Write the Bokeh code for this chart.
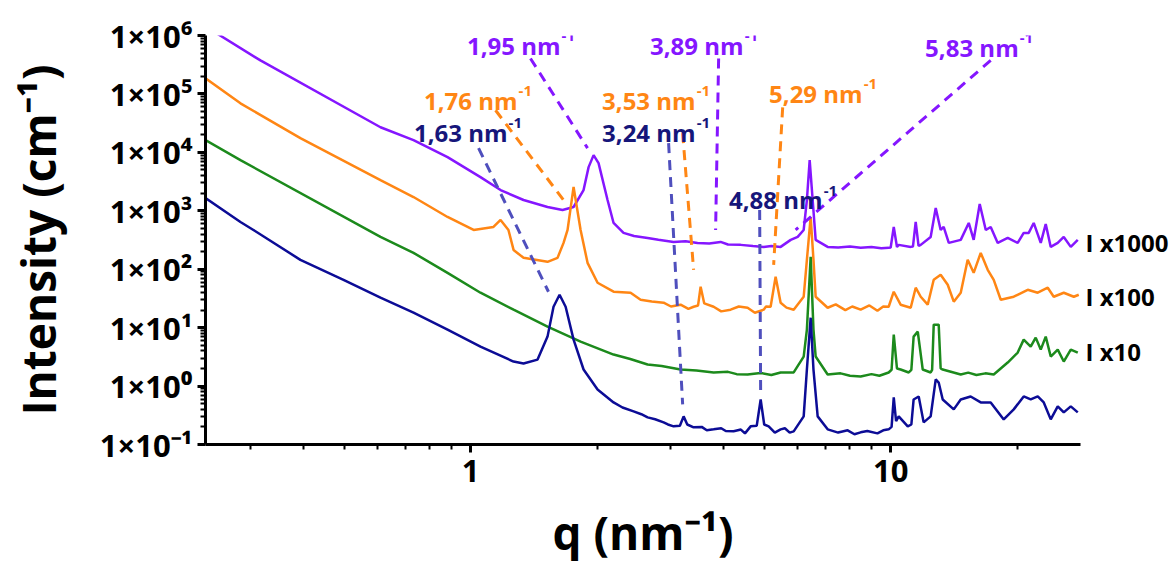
from bokeh.plotting import figure
from bokeh.models import Label, FixedTicker, Range1d, CustomJSTickFormatter, LogAxis
from bokeh.embed import file_html
from bokeh.resources import INLINE

FONT = "Open Sans"

# ---------------- data: (q in nm^-1, I in cm^-1, curves already multiplied) ----------------
blue_pts = [(0.234, 1654), (0.2834, 644), (0.3043, 470), (0.3936, 144.7), (0.4985, 65.9),
            (0.6105, 32.5), (0.7316, 18.0), (0.8816, 9.25), (1.056, 4.74), (1.266, 2.63),
            (1.337, 2.43), (1.444, 2.84), (1.525, 7.02), (1.576, 22.8), (1.629, 36.6),
            (1.684, 22.8), (1.759, 6.24), (1.858, 1.92), (2.006, 0.875), (2.19, 0.525),
            (2.3, 0.43), (2.444, 0.369), (2.55, 0.33), (2.639, 0.291), (2.75, 0.27),
            (2.881, 0.239), (2.95, 0.22), (3.043, 0.2045), (3.15, 0.21), (3.215, 0.303),
            (3.28, 0.22), (3.396, 0.1966), (3.55, 0.2), (3.65, 0.175), (3.79, 0.1817),
            (3.95, 0.19), (4.05, 0.17), (4.229, 0.168), (4.4, 0.18), (4.5, 0.155),
            (4.642, 0.2045), (4.8, 0.21), (4.904, 0.59), (5.0, 0.22), (5.124, 0.2045),
            (5.3, 0.16), (5.471, 0.1817), (5.6, 0.19), (5.75, 0.16), (5.877, 0.168),
            (6.208, 0.303), (6.318, 1.92), (6.45, 14.8), (6.55, 1.92), (6.702, 0.303),
            (7.079, 0.1817), (7.5, 0.16), (7.9, 0.175), (8.2, 0.15), (8.483, 0.1616),
            (8.8, 0.17), (9.3, 0.155), (9.6, 0.175), (9.891, 0.1817), (10.05, 0.2),
            (10.17, 0.639), (10.3, 0.25), (10.45, 0.303), (10.98, 0.2045), (11.2, 0.22),
            (11.34, 0.59), (11.66, 0.664), (11.98, 0.239), (12.45, 0.303), (12.8, 1.30),
            (13.01, 1.15), (13.3, 0.59), (14.13, 0.399), (14.68, 0.59), (15.5, 0.664),
            (16.38, 0.525), (17.3, 0.525), (18.58, 0.269), (19.63, 0.399), (20.73, 0.664),
            (21.54, 0.59), (22.39, 0.664), (23.14, 0.525), (24.04, 0.269), (24.98, 0.449),
            (25.82, 0.354), (26.83, 0.449), (27.88, 0.354)]

green_pts = [(0.234, 16150), (0.2834, 7360), (0.6105, 357), (0.7316, 190.5), (0.8816, 86.8),
             (1.056, 39.6), (1.266, 20.3), (1.525, 10.4), (1.828, 5.77), (2.19, 3.46),
             (2.4, 2.9), (2.639, 2.34), (2.85, 2.2), (3.162, 1.92), (3.45, 1.85),
             (3.79, 1.71), (4.1, 1.75), (4.3, 1.6), (4.565, 1.58), (4.9, 1.68),
             (5.2, 1.55), (5.471, 1.71), (5.877, 1.71), (6.208, 3.2), (6.318, 9.25),
             (6.45, 162.8), (6.55, 9.25), (6.629, 3.2), (7.079, 1.58), (7.6, 1.65),
             (8.0, 1.5), (8.483, 1.46), (9.0, 1.6), (9.4, 1.5), (9.891, 1.71),
             (10.05, 1.9), (10.17, 7.6), (10.35, 2.0), (10.56, 1.92), (11.04, 1.71),
             (11.2, 1.9), (11.34, 7.02), (11.6, 8.55), (11.92, 1.92), (12.45, 1.71),
             (12.55, 1.9), (12.66, 11.25), (13.01, 11.25), (13.15, 2.0), (13.3, 1.92),
             (14.68, 1.58), (15.3, 1.7), (16.0, 1.55), (16.8, 1.65), (17.59, 1.58),
             (18.99, 2.53), (20.06, 3.745), (20.73, 6.24), (21.54, 4.74), (22.14, 6.75),
             (22.76, 4.21), (23.39, 7.02), (24.04, 3.2), (24.98, 4.21), (25.82, 2.63),
             (26.83, 4.21), (27.88, 3.745)]

orange_pts = [(0.234, 184600), (0.2834, 69100), (0.3936, 17470), (0.6105, 3350), (0.7316, 1720),
              (0.8816, 784), (1.017, 470), (1.134, 529), (1.179, 697), (1.231, 470),
              (1.266, 214), (1.337, 156.5), (1.525, 133.8), (1.611, 156.5), (1.665, 282),
              (1.702, 470), (1.759, 2550), (1.828, 470), (1.899, 128.6), (2.006, 58.6),
              (2.19, 41.2), (2.404, 39.6), (2.54, 30.0), (2.7, 28), (2.881, 26.7),
              (3.0, 23), (3.162, 24.7), (3.3, 21), (3.396, 22.8), (3.48, 24),
              (3.529, 50.1), (3.6, 26), (3.79, 22.8), (3.95, 19), (4.159, 20.3),
              (4.35, 23), (4.565, 21.9), (4.75, 18), (4.985, 20.3), (5.05, 23),
              (5.179, 22.8), (5.323, 74.2), (5.471, 26.7), (5.65, 22), (5.877, 20.3),
              (6.208, 33.8), (6.318, 144.7), (6.45, 784), (6.55, 144.7), (6.629, 33.8),
              (7.079, 21.9), (7.4, 25), (7.8, 20), (8.1, 23), (8.483, 20.3),
              (8.9, 24), (9.3, 19.5), (9.6, 23), (9.891, 22.8), (10.17, 41.2),
              (10.56, 24.7), (11.16, 21.9), (11.47, 48.2), (11.79, 33.8), (12.25, 24.7),
              (12.66, 65.9), (13.15, 80.3), (13.67, 54.2), (14.13, 27.8), (14.68, 39.6),
              (15.25, 144.7), (15.76, 86.8), (16.38, 190.5), (17.02, 97.7), (17.59, 65.9),
              (18.28, 30.0), (19.63, 33.8), (21.19, 44.5), (22.39, 39.6), (23.65, 48.2),
              (24.44, 33.8), (25.82, 39.6), (27.28, 33.8), (28.03, 36.6)]

purple_pts = [(0.234, 1430000), (0.3162, 374500), (0.6105, 26900), (0.7316, 16150), (0.8816, 8280),
              (1.056, 3770), (1.179, 2265), (1.337, 1529), (1.525, 1161), (1.656, 1032),
              (1.759, 1161), (1.858, 2265), (1.91, 5590), (1.963, 8960), (2.017, 6540),
              (2.119, 1529), (2.19, 619), (2.313, 418), (2.45, 370), (2.639, 343),
              (2.8, 320), (3.043, 293.5), (3.25, 300), (3.47, 282), (3.7, 275),
              (3.937, 293.5), (4.1, 265), (4.394, 261), (4.7, 250), (4.985, 241),
              (5.2, 250), (5.471, 241), (5.781, 317.5), (6.007, 357), (6.208, 470),
              (6.318, 1529), (6.415, 7360), (6.521, 1529), (6.629, 317.5), (7.079, 241),
              (7.5, 235), (8.0, 245), (8.483, 232), (9.0, 240), (9.5, 228),
              (9.891, 232), (10.0, 235), (10.17, 529), (10.35, 240), (10.45, 261),
              (11.16, 241), (11.3, 245), (11.47, 644), (11.65, 250), (11.79, 261),
              (12.45, 357), (12.8, 1116), (13.15, 470), (13.37, 529), (13.75, 282),
              (14.68, 317.5), (15.34, 619), (15.76, 317.5), (16.29, 1306), (16.84, 470),
              (17.3, 529), (17.98, 282), (18.99, 343), (20.06, 282), (20.73, 418),
              (21.31, 418), (21.9, 619), (22.76, 282), (23.39, 595), (24.04, 241),
              (24.98, 282), (25.82, 357), (26.83, 241), (27.88, 317.5)]

blue_q, blue_I = [list(v) for v in zip(*blue_pts)]
green_q, green_I = [list(v) for v in zip(*green_pts)]
orange_q, orange_I = [list(v) for v in zip(*orange_pts)]
purple_q, purple_I = [list(v) for v in zip(*purple_pts)]

# peak annotations: label text, anchor (end of "nm"), dashed line ends
blue_ann = ["1,63", "3,24", "4,88"]
orange_ann = ["1,76", "3,53", "5,29"]
purple_ann = ["1,95", "3,89", "5,83"]
blue_anchor = [(1.225, 22100), (3.434, 22100), (6.887, 1530)]
orange_anchor = [(1.294, 77800), (3.434, 77800), (8.577, 102000)]
purple_anchor = [(1.638, 675000), (4.467, 675000), (20.17, 624000)]
blue_seg = [((1.045, 11800), (1.533, 41.1)), ((2.961, 14400), (3.198, 0.485)), ((4.877, 1030), (4.904, 0.664))]
orange_seg = [((1.147, 52500), (1.665, 1530)), ((3.198, 21300), (3.396, 97.7)), ((5.533, 59000), (5.266, 119))]
purple_seg = [((1.389, 405000), (1.899, 11800)), ((3.895, 405000), (3.831, 470)), ((17.30, 374500), (5.94, 470))]

mult_labels = ["I x1000", "I x100", "I x10"]
mult_level = [282.0, 33.8, 3.89]

BLUE = "#0c0c96"
BLUE_TXT = "#16167a"
BLUE_DASH = "#4f4fbd"
GREEN = "#1c8a1c"
ORANGE = "#ff8614"
PURPLE = "#8516ff"

p = figure(width=1176, height=565, x_axis_type="log", y_axis_type="log",
           x_range=Range1d(0.234, 28.3), y_range=Range1d(0.1, 1e6),
           output_backend="svg", toolbar_location=None,
           min_border_left=205, min_border_right=96, min_border_top=35, min_border_bottom=120)
p.outline_line_color = None
p.xgrid.visible = False
p.ygrid.visible = False
p.background_fill_color = "white"
p.border_fill_color = "white"

p.line(purple_q, purple_I, line_color=PURPLE, line_width=2.5)
p.line(orange_q, orange_I, line_color=ORANGE, line_width=2.5)
p.line(green_q, green_I, line_color=GREEN, line_width=2.5)
p.line(blue_q, blue_I, line_color=BLUE, line_width=2.5)

for segs, col in [(blue_seg, BLUE_DASH), (orange_seg, ORANGE), (purple_seg, PURPLE)]:
    p.segment(x0=[s[0][0] for s in segs], y0=[s[0][1] for s in segs],
              x1=[s[1][0] for s in segs], y1=[s[1][1] for s in segs],
              line_color=col, line_width=3, line_dash="10 7")

for texts, anchors, col in [(blue_ann, blue_anchor, BLUE_TXT), (orange_ann, orange_anchor, ORANGE),
                            (purple_ann, purple_anchor, PURPLE)]:
    for t, (ax, ay) in zip(texts, anchors):
        p.add_layout(Label(x=ax, y=ay, text=t + " nm", text_align="right", text_baseline="alphabetic",
                           text_font=FONT, text_font_size="24px", text_font_style="bold", text_color=col))
        p.add_layout(Label(x=ax, y=ay, text="-1", text_align="left", text_baseline="alphabetic",
                           x_offset=1, y_offset=9,
                           text_font=FONT, text_font_size="15px", text_font_style="bold", text_color=col))

# right-hand multiplier labels as a tickless right axis
right_axis = LogAxis(ticker=FixedTicker(ticks=mult_level, minor_ticks=[]))
right_axis.major_label_overrides = {v: t for v, t in zip(mult_level, mult_labels)}
right_axis.axis_line_color = None
right_axis.major_tick_line_color = None
right_axis.minor_tick_line_color = None
right_axis.major_tick_out = 0
right_axis.major_label_standoff = 5
right_axis.major_label_text_font = FONT
right_axis.major_label_text_font_style = "bold"
right_axis.major_label_text_font_size = "24px"
right_axis.major_label_text_color = "black"
p.add_layout(right_axis, "right")

# axes
y_major = [0.1, 1.0, 10.0, 100.0, 1e3, 1e4, 1e5, 1e6]
y_minor = [k * m for m in [0.1, 1.0, 10.0, 100.0, 1e3, 1e4, 1e5] for k in range(2, 10)]
x_major = [1.0, 10.0]
x_minor = [0.3, 0.4, 0.5, 0.6, 0.7, 0.8, 0.9, 2, 3, 4, 5, 6, 7, 8, 9, 20]

p.yaxis[0].ticker = FixedTicker(ticks=y_major, minor_ticks=y_minor)
p.xaxis.ticker = FixedTicker(ticks=x_major, minor_ticks=x_minor)
p.yaxis[0].formatter = CustomJSTickFormatter(code="""
const e = Math.round(Math.log10(tick));
const sup = {"-": "\u207b", "0": "\u2070", "1": "\u00b9", "2": "\u00b2", "3": "\u00b3",
             "4": "\u2074", "5": "\u2075", "6": "\u2076", "7": "\u2077", "8": "\u2078", "9": "\u2079"};
return "1\u00d710" + String(e).split("").map(c => sup[c]).join("");
""")
p.xaxis.formatter = CustomJSTickFormatter(code="return String(Math.round(tick));")

for ax in (p.xaxis[0], p.yaxis[0]):
    ax.axis_line_width = 3
    ax.axis_line_color = "black"
    ax.major_tick_line_width = 3
    ax.minor_tick_line_width = 2
    ax.major_tick_out = 8
    ax.major_tick_in = 0
    ax.minor_tick_out = 5
    ax.minor_tick_in = 0
    ax.major_label_text_font = FONT
    ax.major_label_text_font_style = "bold"
    ax.major_label_text_font_size = "31px"
    ax.major_label_text_color = "black"
    ax.axis_label_text_font = FONT
    ax.axis_label_text_font_style = "bold"
    ax.axis_label_text_font_size = "46px"
    ax.axis_label_text_color = "black"

p.yaxis[0].axis_label = "Intensity (cm\u207b\u00b9)"
p.xaxis.axis_label = "q (nm\u207b\u00b9)"
p.yaxis[0].major_label_standoff = 5
p.xaxis.major_label_standoff = 7
p.yaxis[0].axis_label_standoff = 28
p.xaxis.axis_label_standoff = 16

open("out.html", "w").write(file_html(p, INLINE))
